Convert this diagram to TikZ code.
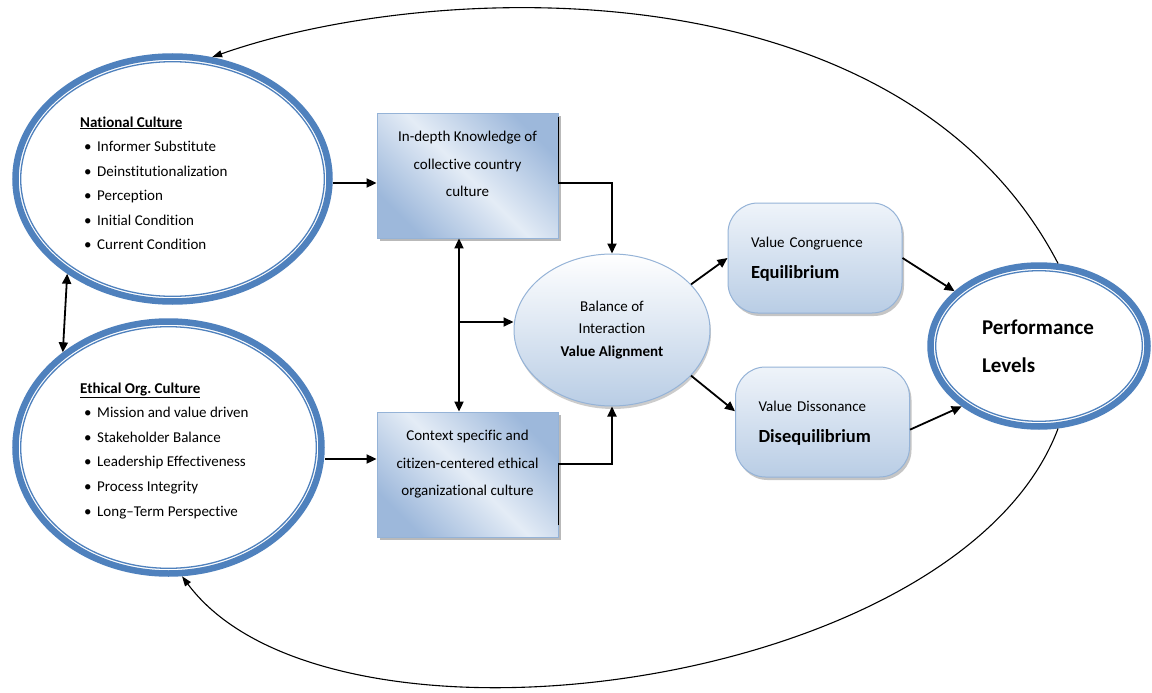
\documentclass[tikz,border=0pt]{standalone}
\usepackage{fontspec}
\setmainfont{Carlito}[Ligatures=NoCommon]
\usetikzlibrary{shapes.geometric,arrows.meta,shadows}
\definecolor{ringblue}{HTML}{4F81BD}
\definecolor{edgeblue}{HTML}{95B3D7}
\definecolor{paleblue}{HTML}{E4ECF6}
\definecolor{midblue}{HTML}{9DB8DB}
\definecolor{softblue}{HTML}{B9CDE5}
\frenchspacing
\newcommand{\itm}[1]{\makebox[17pt][l]{\hspace{4pt}\textbullet}#1}
\newcommand{\liftup}[1]{\raisebox{12pt}[\height][\depth]{\begin{tabular}{@{}c@{}}#1\end{tabular}}}
\newcommand{\twolines}[2]{\begin{tabular}{@{}l@{}}#1\\[7pt]{\fontsize{18.5}{26}\selectfont\bfseries #2}\end{tabular}}

\begin{document}
\begin{tikzpicture}[x=1pt,y=-1pt,font=\fontsize{15}{24.6}\selectfont,
  ring/.style={ellipse,draw=ringblue,line width=6.5pt,inner sep=0pt},
  innerring/.style={draw=ringblue,line width=1.3pt},
  panel/.style={rectangle,draw=edgeblue,line width=0.8pt,minimum width=181pt,minimum height=125pt,inner sep=0pt,
    left color=midblue,right color=midblue,middle color=paleblue,shading angle=135,
    drop shadow={shadow xshift=3pt,shadow yshift=-3pt,fill=black!50,opacity=.55},
    font=\fontsize{15}{27.5}\selectfont},
  pill/.style={rectangle,rounded corners=30pt,draw=edgeblue,line width=1pt,minimum width=174pt,minimum height=110pt,
    text width=128pt,align=left,top color=paleblue!60!white,bottom color=softblue,
    drop shadow={shadow xshift=2pt,shadow yshift=-3pt,fill=black!50,opacity=.45}},
  bubble/.style={ellipse,draw=edgeblue,line width=1pt,minimum width=196pt,minimum height=152pt,inner sep=0pt,
    align=center,top color=white,bottom color=softblue,
    drop shadow={shadow xshift=1pt,shadow yshift=-3pt,fill=black!50,opacity=.4},
    font=\fontsize{15}{22.5}\selectfont},
  conn/.style={draw,line width=1.8pt,-{Triangle[length=10pt,width=9pt]}},
  twoway/.style={draw,line width=1.8pt,{Triangle[length=10pt,width=9pt]}-{Triangle[length=10pt,width=9pt]}},
  feedback/.style={draw,line width=1.1pt,-{Triangle[length=10pt,width=7pt]}}]
  \path[use as bounding box,fill=white] (0,0) rectangle (1152,693);

  \node[ring,minimum width=314pt,minimum height=245pt] (nat) at (172.5,179) {};
  \draw[innerring] (nat.center) ellipse [x radius=151.8pt,y radius=117.3pt];
  \node[ring,minimum width=306pt,minimum height=252pt] (eth) at (168.5,447.5) {};
  \draw[innerring] (eth.center) ellipse [x radius=147.8pt,y radius=120.8pt];
  \node[ring,minimum width=217pt,minimum height=161pt,text width=114pt,align=left,
    font=\fontsize{21}{38}\selectfont\bfseries] (perf) at (1039,346) {Performance\\Levels};
  \draw[innerring] (perf.center) ellipse [x radius=103.3pt,y radius=75.3pt];

  \begin{scope}
    \clip (0,0) rectangle (340,248.5);
    \node[anchor=base west,inner sep=0pt] (natlist) at (80,127) {\begin{tabular}[t]{@{}l@{}}
      \underline{\textbf{National Culture}}\\
      \itm{Informer Substitute}\\
      \itm{Deinstitutionalization}\\
      \itm{Perception}\\
      \itm{Initial Condition}\\
      \itm{Current Condition}
    \end{tabular}};
  \end{scope}
  \node[anchor=base west,inner sep=0pt] (ethlist) at (80,393) {\begin{tabular}[t]{@{}l@{}}
    \underline{\textbf{Ethical Org. Culture}}\\
    \itm{Mission and value driven}\\
    \itm{Stakeholder Balance}\\
    \itm{Leadership Effectiveness}\\
    \itm{Process Integrity}\\
    \itm{Long--Term Perspective}
  \end{tabular}};

  \node[panel] (know) at (467.5,175.5) {\liftup{In-depth Knowledge of\\collective country\\culture}};
  \node[panel] (ctx) at (467.5,474.5) {\liftup{Context specific and\\citizen-centered ethical\\organizational culture}};
  \node[bubble] (bal) at (612,330) {Balance of\\Interaction\\\textbf{Value Alignment}};
  \node[pill] (cong) at (815,258) {\twolines{Value Congruence}{Equilibrium}};
  \node[pill] (diss) at (822.5,422) {\twolines{Value Dissonance}{Disequilibrium}};

  \coordinate (rowtop) at (0,183);
  \coordinate (rowbot) at (0,459);
  \coordinate (hub) at (459,322);
  \coordinate (kturn) at (612,183);
  \coordinate (cturn) at (612,464);

  \draw[conn] (nat.east |- rowtop) -- (know.west |- rowtop);
  \draw[conn] (eth.east |- rowbot) -- (ctx.west |- rowbot);
  \draw[twoway] (nat.222) -- (eth.138);
  \draw[conn] ([yshift=-4pt]know.north east) |- (kturn) -- (bal.north);
  \draw[conn] ([yshift=12pt]ctx.south east) |- (cturn) -- (bal.south);
  \draw[twoway] (know.south -| hub) -- (ctx.north -| hub);
  \draw[conn] (hub) -- (hub -| bal.west);
  \draw[conn] (bal.30) -- (cong.west);
  \draw[conn] (bal.-30) -- (diss.173);
  \draw[conn] (cong.east) -- (perf.147);
  \draw[conn] (diss.-5) -- (perf.218);
  \draw[feedback] (perf.77) .. controls (900,-40) and (430,-20) .. (nat.72);
  \draw[feedback] (perf.283) .. controls (960,690) and (330,775) .. (eth.276);
\end{tikzpicture}
\end{document}
